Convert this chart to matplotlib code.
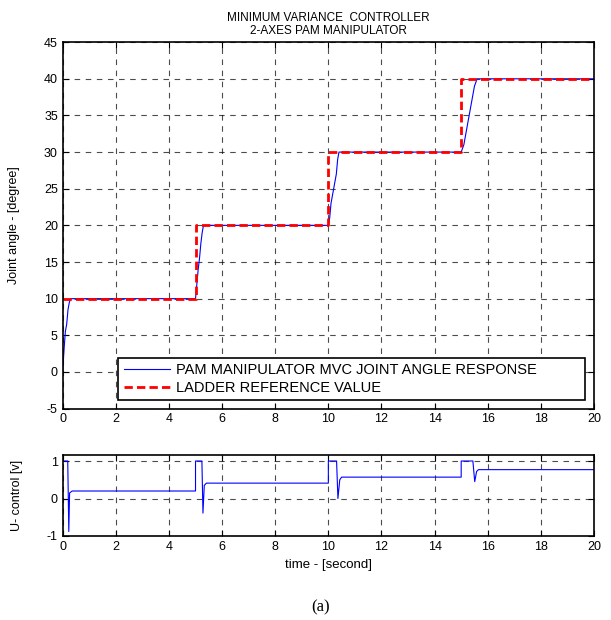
import matplotlib
matplotlib.use("Agg")
import matplotlib.pyplot as plt

# =====================================================
# データ
# =====================================================
# 関節角度応答 (時間[s], 角度[deg])
t_resp = [0, 0.05, 0.1, 0.15, 0.2, 0.25, 0.3,
          5.0, 5.05, 5.1, 5.15, 5.2, 5.25, 5.3,
          10.0, 10.05, 10.1, 10.2, 10.3, 10.35, 10.4,
          15.0, 15.1, 15.2, 15.3, 15.4, 15.5, 15.6, 20.0]
ang_resp = [0, 3, 5.5, 6.5, 8.5, 9.5, 10,
            10, 12, 14, 15.5, 17.5, 19, 20,
            20, 21, 23, 25, 27, 29, 30,
            30, 31, 33, 35, 37, 39, 40, 40]

# ラダー参照値
t_ref = [0, 5, 5, 10, 10, 15, 15, 20]
ang_ref = [10, 10, 20, 20, 30, 30, 40, 40]

# 制御入力 U
t_u = [0, 0.19, 0.23, 0.26, 0.36,
       5.0, 5.0, 5.24, 5.28, 5.33, 5.41,
       10.0, 10.0, 10.31, 10.36, 10.43, 10.5,
       15.0, 15.0, 15.44, 15.51, 15.58, 15.65, 20.0]
u_val = [1, 1, -0.88, 0.15, 0.2,
         0.2, 1, 1, -0.39, 0.35, 0.41,
         0.41, 1, 1, 0.0, 0.5, 0.57,
         0.57, 1, 1, 0.45, 0.72, 0.77, 0.77]

x_ticks = list(range(0, 21, 2))
y_ticks_top = list(range(-5, 46, 5))
y_ticks_bot = [-1, 0, 1]

# =====================================================
# 描画
# =====================================================
plt.rcParams["font.family"] = ["Liberation Sans", "DejaVu Sans"]
plt.rcParams["axes.unicode_minus"] = False   # MATLAB風にハイフンのマイナス

fig = plt.figure(figsize=(6.11, 6.2), dpi=100)
ax1 = fig.add_axes([0.1026, 0.341, 0.8696, 0.591])
ax2 = fig.add_axes([0.1026, 0.1355, 0.8696, 0.1306])

grid_kw = dict(color="black", linestyle=(0, (5, 5)), linewidth=0.8, alpha=0.7)

# 上：関節角度
ax1.plot(t_resp, ang_resp, color="blue", linewidth=0.8,
         label="PAM MANIPULATOR MVC JOINT ANGLE RESPONSE")
ax1.plot(t_ref, ang_ref, color="red", linewidth=2, linestyle=(0, (3, 1.5)),
         label="LADDER REFERENCE VALUE")
ax1.set_xlim(0, 20)
ax1.set_ylim(-5, 45)
ax1.set_xticks(x_ticks)
ax1.set_yticks(y_ticks_top)
ax1.grid(True, **grid_kw)
ax1.set_ylabel("Joint angle - [degree]", fontsize=9)
ax1.yaxis.set_label_coords(-0.080, 0.5)
ax1.set_title("MINIMUM VARIANCE  CONTROLLER\n2-AXES PAM MANIPULATOR",
              fontsize=8.5, pad=6, linespacing=1.1)
leg = ax1.legend(loc="lower left", bbox_to_anchor=(0.105, 0.023, 0.878, 0.11),
                 mode="expand", borderaxespad=0, fancybox=False,
                 edgecolor="black", fontsize=10.5, handlelength=3.2,
                 handletextpad=0.4, labelspacing=0.3, borderpad=0.35,
                 framealpha=1)
leg.get_frame().set_linewidth(1.2)

# 下：制御入力
ax2.plot(t_u, u_val, color="blue", linewidth=0.8)
ax2.set_xlim(0, 20)
ax2.set_ylim(-1, 1.16)
ax2.set_xticks(x_ticks)
ax2.set_yticks(y_ticks_bot)
ax2.grid(True, **grid_kw)
ax2.set_ylabel("U- control [v]", fontsize=9)
ax2.yaxis.set_label_coords(-0.075, 0.5)
ax2.set_xlabel("time - [second]", fontsize=9.5, labelpad=4.5)

for ax in (ax1, ax2):
    ax.tick_params(direction="in", labelsize=9, length=4, width=0.8,
                   top=True, right=True)
    for sp in ax.spines.values():
        sp.set_linewidth(1.2)
    ax.set_axisbelow(True)

fig.text(0.525, 0.021, "(a)", ha="center", va="center", fontsize=12,
         family=["Liberation Serif", "DejaVu Serif"])

fig.savefig("out.png", dpi=100)
